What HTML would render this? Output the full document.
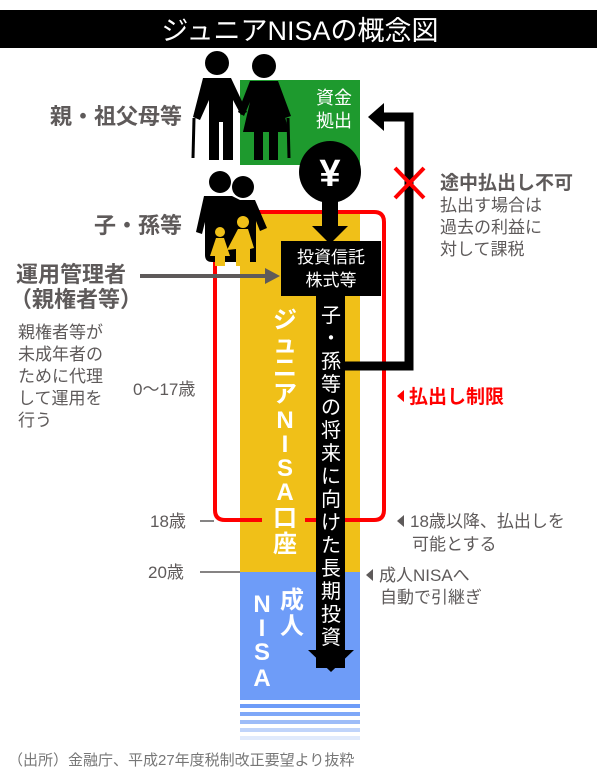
<!DOCTYPE html>
<html><head><meta charset="utf-8"><style>
html,body{margin:0;padding:0;background:#fff;}
svg{display:block;}
text{font-family:"Liberation Sans","Noto Sans CJK JP",sans-serif;}
</style></head><body>
<svg width="600" height="775" viewBox="0 0 600 775" xmlns="http://www.w3.org/2000/svg">
<rect x="0" y="10" width="597" height="38" fill="#000"/>
<text x="300" y="40" font-size="27" fill="#fff" text-anchor="middle">ジュニアNISAの概念図</text>

<rect x="240" y="80" width="120" height="85" fill="#1e9a2e"/>
<rect x="240" y="210" width="120" height="362" fill="#f0c018"/>
<rect x="240" y="572" width="120" height="128" fill="#6e9cf8"/>
<rect x="240" y="704" width="120" height="4" fill="#6e9cf8"/>
<rect x="240" y="712" width="120" height="4" fill="#7fa8f8"/>
<rect x="240" y="720" width="120" height="4" fill="#9dbcf8"/>
<rect x="240" y="728" width="120" height="4" fill="#c0d4fa"/>
<rect x="240" y="736" width="120" height="4" fill="#e0eafc"/>

<path d="M262 520 H225 Q215 520 215 510 V222 Q215 212 225 212 H374 Q384 212 384 222 V510 Q384 520 374 520 H345" fill="none" stroke="#f00" stroke-width="4"/>
<line x1="305" y1="520" x2="317" y2="520" stroke="#f00" stroke-width="4"/>

<g fill="#000">
<circle cx="217" cy="63" r="12"/>
<path d="M203 78 H231 L247 112 L241 115 L233 100 V160 H223 V122 H219 V160 H209 V100 L200 120 L193 117 Z"/>
<line x1="194" y1="118" x2="193" y2="158" stroke="#000" stroke-width="3"/>
<circle cx="264" cy="66" r="12"/>
<path d="M250 81 H278 L291 116 L285 118 L281 102 L289 132 H278 V160 H269 V132 H263 V160 H254 V132 H243 L250 102 L244 116 L238 112 Z"/>
<line x1="288" y1="118" x2="289" y2="158" stroke="#000" stroke-width="3"/>
</g>
<g>
<circle cx="220" cy="182" r="11" fill="#000"/>
<circle cx="243" cy="187" r="11" fill="#000"/>
<path d="M204 196 H232 L240 200 H255 L267 228 L260 231 L256 221 V262 H212 Q205 262 205 255 V222 L202 234 L196 232 Z" fill="#000"/>
<circle cx="220" cy="232" r="5" fill="#f0c018"/>
<path d="M216 238 H224 L230 256 H225 V266 H215 V256 H210 Z" fill="#f0c018"/>
<circle cx="243" cy="222" r="6" fill="#f0c018"/>
<path d="M238 229 H248 L254 248 L250 249 V266 H236 V249 L227 250 Z" fill="#f0c018"/>
</g>

<text x="334" y="104" font-size="18" fill="#fff" text-anchor="middle">資金</text>
<text x="334" y="127" font-size="18" fill="#fff" text-anchor="middle">拠出</text>

<rect x="322" y="190" width="16" height="42" fill="#000"/>
<polygon points="312,226 348,226 330,244" fill="#000"/>
<circle cx="330" cy="172" r="31" fill="#000"/>
<text x="330" y="186" font-size="38" font-weight="bold" fill="#fff" text-anchor="middle">¥</text>

<rect x="281" y="241" width="100" height="55" fill="#000"/>
<text x="331" y="263" font-size="17" fill="#fff" text-anchor="middle">投資信託</text>
<text x="331" y="286" font-size="17" fill="#fff" text-anchor="middle">株式等</text>

<path d="M345 366 H409 V117 H380" fill="none" stroke="#000" stroke-width="9"/>
<polygon points="368,117 384,103 384,131" fill="#000"/>
<line x1="395" y1="168" x2="424" y2="198" stroke="#f00" stroke-width="4"/>
<line x1="424" y1="168" x2="395" y2="198" stroke="#f00" stroke-width="4"/>

<rect x="316" y="296" width="29" height="372" fill="#000"/>
<polygon points="308,650 354,650 331,672" fill="#000"/>
<g font-size="20" fill="#fff" text-anchor="middle">
<text x="331" y="322">子</text><text x="331" y="345">・</text><text x="331" y="368">孫</text><text x="331" y="391">等</text><text x="331" y="414">の</text><text x="331" y="437">将</text><text x="331" y="460">来</text><text x="331" y="483">に</text><text x="331" y="506">向</text><text x="331" y="529">け</text><text x="331" y="552">た</text><text x="331" y="575">長</text><text x="331" y="598">期</text><text x="331" y="621">投</text><text x="331" y="644">資</text>
</g>

<g font-size="24" font-weight="bold" fill="#fff" text-anchor="middle">
<text x="285" y="328">ジ</text><text x="285" y="352">ュ</text><text x="285" y="376">ニ</text><text x="285" y="402">ア</text><text x="285" y="428">N</text><text x="285" y="452">I</text><text x="285" y="476">S</text><text x="285" y="500">A</text><text x="285" y="526">口</text><text x="285" y="552">座</text>
<text x="292" y="608">成</text><text x="292" y="634">人</text>
<text x="262" y="612">N</text><text x="262" y="636">I</text><text x="262" y="660">S</text><text x="262" y="686">A</text>
</g>

<g fill="#5e5a5a" font-weight="bold">
<text x="182" y="124" font-size="22" text-anchor="end">親・祖父母等</text>
<text x="182" y="233" font-size="22" text-anchor="end">子・孫等</text>
<text x="16" y="282" font-size="22">運用管理者</text>
<text x="10" y="307" font-size="22">（親権者等）</text>
</g>
<line x1="140" y1="276" x2="268" y2="276" stroke="#5e5a5a" stroke-width="4"/>
<polygon points="280,276 265,268 265,284" fill="#5e5a5a"/>
<g fill="#5e5a5a" font-size="17">
<text x="18" y="338">親権者等が</text>
<text x="18" y="360">未成年者の</text>
<text x="18" y="382">ために代理</text>
<text x="18" y="404">して運用を</text>
<text x="18" y="426">行う</text>
<text x="133" y="395">0〜17歳</text>
<text x="150" y="527">18歳</text>
<text x="148" y="578">20歳</text>
</g>
<line x1="200" y1="521" x2="214" y2="521" stroke="#5e5a5a" stroke-width="1.5"/>
<line x1="200" y1="572" x2="240" y2="572" stroke="#5e5a5a" stroke-width="1.5"/>

<text x="440" y="189" font-size="19" font-weight="bold" fill="#5e5a5a">途中払出し不可</text>
<g fill="#5e5a5a" font-size="17">
<text x="440" y="211">払出す場合は</text>
<text x="440" y="233">過去の利益に</text>
<text x="440" y="255">対して課税</text>
</g>
<polygon points="397,396 404,390 404,402" fill="#f00"/>
<text x="409" y="403" font-size="19" font-weight="bold" fill="#f00">払出し制限</text>
<polygon points="397,521 404,515 404,527" fill="#5e5a5a"/>
<g fill="#5e5a5a" font-size="17">
<text x="410" y="527">18歳以降、払出しを</text>
<text x="412" y="550">可能とする</text>
</g>
<polygon points="366,575 373,569 373,581" fill="#5e5a5a"/>
<g fill="#5e5a5a" font-size="17">
<text x="379" y="581">成人NISAへ</text>
<text x="380" y="603">自動で引継ぎ</text>
</g>

<text x="8" y="765" font-size="15" fill="#777">（出所）金融庁、平成27年度税制改正要望より抜粋</text>
</svg>
</body></html>
